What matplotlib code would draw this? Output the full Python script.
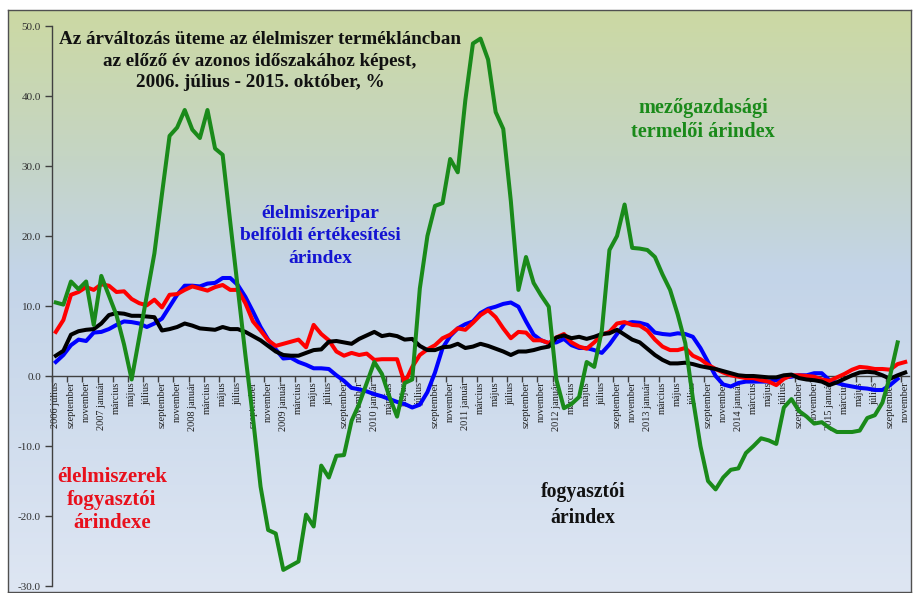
import numpy as np
import matplotlib
matplotlib.use('Agg')
import matplotlib.pyplot as plt
from matplotlib.colors import LinearSegmentedColormap

# ---------------- data (Jul 2006 ... Nov 2015, monthly) ----------------
month_names = ["január", "február", "március", "április", "május", "június",
               "július", "augusztus", "szeptember", "október", "november", "december"]
start_year, start_month = 2006, 7   # július
n_months = 113

nan = np.nan
agri_producer = [10.5, 10.2, 13.5, 12.4, 13.5, 7.3, 14.3, 11.5, 8.7, 4.5,
                 -0.5, 5.5, 11.5, 17.5, 26.0, 34.3, 35.5, 38.0, 35.2, 34.0,
                 38.0, 32.5, 31.6, 22.0, 12.5, 3.0, -6.0, -15.8, -22.0, -22.5,
                 -27.7, -27.1, -26.5, -19.8, -21.5, -12.8, -14.5, -11.4, -11.3, -6.4,
                 -4.0, -1.0, 2.0, 0.3, -3.0, -5.8, -1.0, -0.5, 12.5, 20.0,
                 24.3, 24.7, 31.0, 29.1, 39.4, 47.5, 48.2, 45.2, 37.7, 35.3,
                 25.0, 12.3, 17.0, 13.3, 11.5, 9.9, -0.5, -4.6, -4.0, -3.0,
                 2.0, 1.3, 6.5, 18.0, 20.0, 24.5, 18.3, 18.2, 18.0, 17.0,
                 14.5, 12.3, 8.8, 4.7, -3.2, -10.0, -15.0, -16.2, -14.5, -13.4,
                 -13.2, -11.0, -10.0, -8.9, -9.2, -9.7, -4.5, -3.3, -5.0, -5.8,
                 -6.8, -6.6, -7.4, -8.0, -8.0, -8.0, -7.8, -6.0, -5.6, -3.8,
                 0.0, 4.8, nan]

food_industry = [2.0, 3.0, 4.4, 5.2, 5.0, 6.2, 6.3, 6.7, 7.3, 7.8,
                 7.7, 7.5, 7.0, 7.5, 8.2, 9.9, 11.6, 12.9, 12.9, 12.8,
                 13.2, 13.3, 14.0, 14.0, 13.0, 11.3, 9.2, 7.0, 5.2, 3.8,
                 2.5, 2.6, 2.0, 1.6, 1.1, 1.1, 1.0, 0.1, -0.7, -1.7,
                 -1.9, -2.2, -2.6, -2.9, -3.3, -3.7, -4.0, -4.5, -4.1, -2.3,
                 0.5, 4.0, 5.7, 6.8, 7.4, 7.8, 9.0, 9.6, 9.9, 10.3,
                 10.5, 9.9, 7.8, 5.9, 5.1, 4.7, 4.8, 5.3, 4.4, 4.0,
                 4.0, 3.7, 3.3, 4.5, 6.0, 7.5, 7.7, 7.6, 7.3, 6.2,
                 6.0, 5.9, 6.1, 6.0, 5.6, 4.0, 2.0, 0.0, -1.2, -1.5,
                 -1.0, -0.8, -0.8, -0.8, -0.8, -0.6, -0.2, -0.1, 0.1, 0.1,
                 0.4, 0.4, -0.6, -1.0, -1.3, -1.5, -1.7, -1.8, -2.0, -2.0,
                 -1.3, -0.4, nan]

food_consumer = [6.3, 8.0, 11.6, 12.0, 12.7, 12.3, 13.1, 12.9, 12.0, 12.1,
                 11.0, 10.4, 10.1, 10.9, 9.8, 11.6, 11.7, 12.3, 12.8, 12.5,
                 12.2, 12.7, 13.0, 12.3, 12.3, 10.4, 7.8, 6.5, 5.1, 4.3,
                 4.6, 4.9, 5.2, 4.1, 7.3, 6.0, 5.1, 3.5, 2.9, 3.3,
                 3.0, 3.2, 2.3, 2.4, 2.4, 2.4, -1.0, 1.3, 3.0, 3.8,
                 4.4, 5.4, 5.9, 6.8, 6.6, 7.6, 8.7, 9.4, 8.4, 6.8,
                 5.4, 6.3, 6.2, 5.1, 5.1, 4.7, 5.5, 6.0, 4.8, 4.2,
                 3.9, 4.8, 5.9, 6.3, 7.5, 7.7, 7.3, 7.2, 6.5, 5.2,
                 4.2, 3.7, 3.7, 4.0, 2.9, 2.4, 1.6, 1.0, 0.5, 0.1,
                 -0.1, -0.3, -0.3, -0.6, -0.8, -1.3, -0.4, 0.1, 0.1, 0.0,
                 -0.1, -0.5, -0.7, -0.2, 0.3, 0.9, 1.3, 1.2, 1.0, 1.0,
                 0.9, 1.7, 2.0]

consumer = [2.9, 3.6, 5.9, 6.4, 6.6, 6.7, 7.5, 8.7, 9.0, 8.9,
            8.6, 8.6, 8.5, 8.4, 6.5, 6.7, 7.0, 7.5, 7.2, 6.8,
            6.7, 6.6, 7.0, 6.7, 6.7, 6.3, 5.7, 5.1, 4.3, 3.5,
            3.0, 2.9, 2.9, 3.3, 3.7, 3.8, 4.9, 5.0, 4.8, 4.6,
            5.3, 5.8, 6.3, 5.7, 5.9, 5.7, 5.2, 5.3, 4.3, 3.7,
            3.7, 4.1, 4.2, 4.6, 4.0, 4.2, 4.6, 4.3, 3.9, 3.5,
            3.0, 3.5, 3.5, 3.7, 4.0, 4.2, 5.5, 5.8, 5.4, 5.6,
            5.3, 5.6, 6.0, 6.1, 6.6, 5.9, 5.2, 4.8, 3.9, 3.0,
            2.3, 1.8, 1.8, 1.9, 1.7, 1.4, 1.2, 1.0, 0.7, 0.4,
            0.1, 0.0, 0.0, -0.1, -0.2, -0.2, 0.1, 0.2, -0.3, -0.5,
            -0.6, -0.8, -1.3, -0.9, -0.4, 0.1, 0.5, 0.6, 0.5, 0.1,
            -0.4, 0.1, 0.5]

y_ticks = [-30, -20, -10, 0, 10, 20, 30, 40, 50]

# category labels (every second month shown)
categories = []
for k in range(n_months):
    m = (start_month - 1 + k) % 12
    yr = start_year + (start_month - 1 + k) // 12
    categories.append(f"{yr} {month_names[m]}" if (m == 0 or k == 0) else month_names[m])

# ---------------- figure ----------------
W, H = 916, 593
fig = plt.figure(figsize=(W / 100, H / 100), dpi=100)
fig.patch.set_facecolor('white')

def fx(px):
    return px / W

def fy(py):
    return 1 - py / H

# background gradient of chart area
bg = fig.add_axes([fx(8), fy(592), fx(911) - fx(8), fy(10) - fy(592)])
grad = np.linspace(0, 1, 256).reshape(-1, 1)
cmap = LinearSegmentedColormap.from_list(
    'bg', [(0.0, '#ccd9a3'), (0.25, '#c5d5c4'), (0.45, '#c3d4e8'), (1.0, '#dee6f3')])
bg.imshow(grad, aspect='auto', cmap=cmap, extent=[0, 1, 0, 1], origin='upper')
bg.set_xticks([])
bg.set_yticks([])
for s in bg.spines.values():
    s.set_color('#505050')
    s.set_linewidth(1.0)
bg.set_zorder(0)

ax = fig.add_axes([fx(52), fy(586), fx(909) - fx(52), fy(26) - fy(586)])
ax.set_zorder(1)
ax.set_facecolor('none')

x = np.arange(n_months)
lw = 2.9
ax.plot(x, food_industry, color='#0000ff', lw=lw, zorder=3, solid_joinstyle='round')
ax.plot(x, food_consumer, color='#ff0000', lw=lw, zorder=4, solid_joinstyle='round')
ax.plot(x, consumer, color='#000000', lw=lw, zorder=5, solid_joinstyle='round')
ax.plot(x, agri_producer, color='#1a8a1a', lw=lw, zorder=6, solid_joinstyle='round')

ax.set_xlim(-0.5, n_months - 0.5)
ax.set_ylim(-30, 50)

axis_col = '#404040'
for s in ['top', 'right']:
    ax.spines[s].set_visible(False)
ax.spines['bottom'].set_position(('data', 0))
ax.spines['bottom'].set_color(axis_col)
ax.spines['left'].set_color(axis_col)
ax.spines['bottom'].set_linewidth(1.0)
ax.spines['left'].set_linewidth(1.0)
ax.spines['bottom'].set_zorder(2)

ax.set_yticks(y_ticks)
ax.set_yticklabels([f"{v:.1f}" for v in y_ticks], fontfamily='Liberation Serif',
                   fontsize=8, color='#303030')
ax.tick_params(axis='y', direction='out', length=5, width=1, color=axis_col, pad=3)

ax.set_xticks(np.arange(-0.5, n_months, 2))
ax.set_xticklabels([])
ax.tick_params(axis='x', which='major', direction='out', length=4, width=1, color=axis_col)
lab_idx = np.arange(0, n_months, 2)
ax.set_xticks(lab_idx, minor=True)
ax.set_xticklabels([categories[i] for i in lab_idx], minor=True, rotation=90,
                   fontfamily='Liberation Serif', fontsize=7.4, color='#202020')
ax.tick_params(axis='x', which='minor', length=0, pad=4)

# ---------------- annotations ----------------
serif = 'Liberation Serif'
fig.text(fx(260), fy(61), "Az árváltozás üteme az élelmiszer termékláncban\n"
         "az előző év azonos időszakához képest,\n2006. július - 2015. október, %",
         ha='center', va='center', fontfamily=serif, fontweight='bold', fontsize=13.8,
         color='#111111', linespacing=1.32, zorder=10)
fig.text(fx(703), fy(120), "mezőgazdasági\ntermelői árindex", ha='center', va='center',
         fontfamily=serif, fontweight='bold', fontsize=14.6, color='#1a8a1a', linespacing=1.3)
fig.text(fx(320), fy(236), "élelmiszeripar\nbelföldi értékesítési\nárindex", ha='center',
         va='center', fontfamily=serif, fontweight='bold', fontsize=14, color='#1414d2',
         linespacing=1.42)
fig.text(fx(112), fy(500), "élelmiszerek\nfogyasztói\nárindexe", ha='center', va='center',
         fontfamily=serif, fontweight='bold', fontsize=15, color='#e8101c', linespacing=1.22)
fig.text(fx(583), fy(505), "fogyasztói\nárindex", ha='center', va='center',
         fontfamily=serif, fontweight='bold', fontsize=14.2, color='#111111', linespacing=1.38)

fig.savefig('out.png', dpi=100)
